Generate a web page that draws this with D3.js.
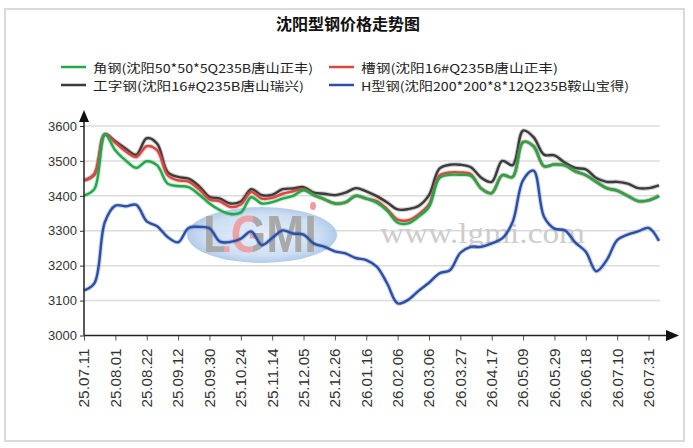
<!DOCTYPE html>
<html>
<head>
<meta charset="utf-8">
<script src="https://cdn.jsdelivr.net/npm/d3@7"></script>
<style>
  body { margin: 0; background: #fff; }
  svg { display: block; }
</style>
</head>
<body>
<div class="chart"></div>
<script>
// Tick labels (one every 15 trading days)
var tickLabels = ["25.07.11", "25.08.01", "25.08.22", "25.09.12", "25.09.30", "25.10.24",
  "25.11.14", "25.12.05", "25.12.26", "26.01.16", "26.02.06", "26.03.06", "26.03.27",
  "26.04.17", "26.05.09", "26.05.29", "26.06.18", "26.07.10", "26.07.31"];
var tickStep = 15;   // trading days between labels
var sampleStep = 5;  // trading days between sampled values

// Series values, every 5 trading days
var angleSteel = [3401, 3420, 3576, 3530, 3501, 3480, 3499, 3487, 3435, 3428, 3425, 3404, 3378, 3359,
  3348, 3352, 3396, 3378, 3382, 3392, 3400, 3416, 3402, 3390, 3378, 3381, 3400, 3392,
  3380, 3357, 3323, 3321, 3340, 3368, 3451, 3460, 3460, 3457, 3421, 3408, 3459, 3454,
  3554, 3542, 3485, 3490, 3487, 3470, 3459, 3440, 3422, 3415, 3400, 3385, 3387, 3400];
var channelSteel = [3444, 3462, 3576, 3552, 3527, 3511, 3542, 3530, 3459, 3444, 3441, 3419, 3390, 3384,
  3368, 3375, 3411, 3392, 3394, 3406, 3413, 3419, 3402, 3390, 3378, 3381, 3400, 3392,
  3385, 3362, 3332, 3330, 3347, 3376, 3458, 3467, 3467, 3462, 3421, 3408, 3459, 3454,
  3554, 3542, 3485, 3490, 3487, 3470, 3459, 3440, 3422, 3415, 3400, 3385, 3387, 3400];
var iBeam = [3444, 3462, 3576, 3556, 3535, 3518, 3565, 3549, 3468, 3454, 3449, 3428, 3397, 3392,
  3378, 3384, 3419, 3402, 3403, 3419, 3421, 3425, 3409, 3406, 3402, 3409, 3422, 3413,
  3399, 3381, 3361, 3362, 3371, 3402, 3478, 3489, 3489, 3482, 3452, 3440, 3500, 3488,
  3587, 3568, 3518, 3516, 3495, 3480, 3476, 3451, 3440, 3440, 3435, 3422, 3422, 3430];
var hBeam = [3129, 3150, 3325, 3372, 3370, 3374, 3327, 3313, 3282, 3267, 3308, 3311, 3307, 3269,
  3268, 3277, 3298, 3259, 3279, 3301, 3292, 3289, 3263, 3254, 3241, 3235, 3222, 3216,
  3197, 3149, 3092, 3102, 3128, 3151, 3178, 3187, 3237, 3254, 3254, 3264, 3278, 3325,
  3445, 3472, 3340, 3306, 3301, 3266, 3240, 3184, 3216, 3273, 3289, 3298, 3308, 3271];

var yTicks = [3000, 3100, 3200, 3300, 3400, 3500, 3600];

var seriesNames = ["角钢(沈阳50*50*5Q235B唐山正丰)", "槽钢(沈阳16#Q235B唐山正丰)",
  "工字钢(沈阳16#Q235B唐山瑞兴)", "H型钢(沈阳200*200*8*12Q235B鞍山宝得)"];
var seriesColors = ["#22a84a", "#d8483f", "#3b3b3b", "#2c4fa6"];
var seriesData = [angleSteel, channelSteel, iBeam, hBeam];

function init() {
  var w = 693;
  var h = 448;
  var left = 84, right = 659, top = 126, bottom = 335.5;

  var svg = d3.select(".chart")
    .append("svg")
    .attr("width", w)
    .attr("height", h);

  // outer frame
  svg.append("rect")
    .attr("x", 5).attr("y", 9)
    .attr("width", 679).attr("height", 432)
    .attr("fill", "#fff")
    .attr("stroke", "#dadada")
    .attr("stroke-width", 2);

  var lastIndex = (angleSteel.length - 1) * sampleStep;
  var xScale = d3.scaleLinear().domain([0, lastIndex]).range([left, right]);
  var yScale = d3.scaleLinear().domain([3000, 3600]).range([bottom, top]);

  // title
  svg.append("text")
    .attr("x", 348).attr("y", 23)
    .attr("text-anchor", "middle")
    .attr("dominant-baseline", "central")
    .style("font-family", "'Noto Sans CJK SC', sans-serif")
    .style("font-size", "16px")
    .style("font-weight", "bold")
    .attr("fill", "#111")
    .text("沈阳型钢价格走势图");

  // legend
  var legendPos = [
    { x: 61, y: 67, w: 220 },
    { x: 329, y: 67, w: 197 },
    { x: 61, y: 85, w: 211 },
    { x: 329, y: 85, w: 268 }
  ];
  seriesNames.forEach(function (name, i) {
    var p = legendPos[i];
    svg.append("line")
      .attr("x1", p.x).attr("x2", p.x + 25)
      .attr("y1", p.y).attr("y2", p.y)
      .attr("stroke", seriesColors[i])
      .attr("stroke-width", 2.5);
    svg.append("text")
      .attr("x", p.x + 32).attr("y", p.y)
      .attr("dominant-baseline", "central")
      .attr("textLength", p.w)
      .attr("lengthAdjust", "spacingAndGlyphs")
      .style("font-family", "'Noto Sans CJK SC', sans-serif")
      .style("font-size", "12px")
      .attr("fill", "#222")
      .text(name);
  });

  // grid lines
  svg.append("g")
    .selectAll("line")
    .data(yTicks.slice(1))
    .enter()
    .append("line")
    .attr("x1", left).attr("x2", right + 1)
    .attr("y1", function (d) { return yScale(d); })
    .attr("y2", function (d) { return yScale(d); })
    .attr("stroke", "#dcdcdc")
    .attr("stroke-width", 1.5);

  // watermark
  var defs = svg.append("defs");
  var grad = defs.append("radialGradient").attr("id", "wmGrad");
  grad.append("stop").attr("offset", "0%").attr("stop-color", "#e3edf8");
  grad.append("stop").attr("offset", "75%").attr("stop-color", "#c9dcf1");
  grad.append("stop").attr("offset", "100%").attr("stop-color", "#aac6e8");
  // letter tint: grey, pink "G", grey
  var tint = defs.append("linearGradient")
    .attr("id", "wmTint")
    .attr("gradientUnits", "userSpaceOnUse")
    .attr("x1", 203).attr("x2", 317).attr("y1", 0).attr("y2", 0);
  [[0, "#a9a9a9"], [0.18, "#a9a9a9"], [0.18, "#eca3a8"], [0.44, "#eca3a8"],
   [0.44, "#a9a9a9"], [1, "#a9a9a9"]].forEach(function (s) {
    tint.append("stop").attr("offset", s[0]).attr("stop-color", s[1]);
  });
  var wm = svg.append("g");
  wm.append("ellipse")
    .attr("cx", 262).attr("cy", 235)
    .attr("rx", 75).attr("ry", 28)
    .attr("fill", "url(#wmGrad)")
    .attr("opacity", 0.9);
  wm.append("text")
    .attr("x", 203).attr("y", 252)
    .attr("textLength", 114)
    .attr("lengthAdjust", "spacingAndGlyphs")
    .style("font-family", "'Liberation Sans', sans-serif")
    .style("font-size", "52px")
    .style("font-weight", "bold")
    .attr("fill", "url(#wmTint)")
    .text("LGMI");
  wm.append("ellipse")
    .attr("cx", 313).attr("cy", 206)
    .attr("rx", 3).attr("ry", 4)
    .attr("fill", "#ee9aa0");
  wm.append("text")
    .attr("x", 380).attr("y", 243)
    .attr("textLength", 205)
    .attr("lengthAdjust", "spacingAndGlyphs")
    .style("font-family", "'Liberation Serif', serif")
    .style("font-size", "30px")
    .attr("fill", "#cdcdcd")
    .text("www.lgmi.com");

  // lines: black, red, green, then blue on top
  var line = d3.line()
    .x(function (d, i) { return xScale(i * sampleStep); })
    .y(function (d) { return yScale(d); })
    .curve(d3.curveCatmullRom.alpha(0.5));
  [2, 1, 0, 3].forEach(function (i) {
    svg.append("path")
      .datum(seriesData[i])
      .attr("fill", "none")
      .attr("stroke", seriesColors[i])
      .attr("stroke-opacity", 0.25)
      .attr("stroke-width", 4.5)
      .attr("d", line);
    svg.append("path")
      .datum(seriesData[i])
      .attr("fill", "none")
      .attr("stroke", seriesColors[i])
      .attr("stroke-width", 2.4)
      .attr("d", line);
  });

  // y axis
  var yAxis = d3.axisLeft(yScale)
    .tickValues(yTicks)
    .tickSize(4)
    .tickPadding(3)
    .tickFormat(d3.format("d"));
  var gy = svg.append("g")
    .attr("transform", "translate(" + left + ",0)")
    .call(yAxis);
  gy.select(".domain").remove();
  gy.selectAll("text")
    .style("font-family", "'Liberation Sans', Arial, sans-serif")
    .style("font-size", "13px")
    .attr("fill", "#333");
  gy.selectAll("line").attr("stroke", "#333");

  // x axis
  var xTickValues = tickLabels.map(function (d, i) { return i * tickStep; });
  var xAxis = d3.axisBottom(xScale)
    .tickValues(xTickValues)
    .tickSize(5)
    .tickFormat(function (d) { return tickLabels[d / tickStep]; });
  var gx = svg.append("g")
    .attr("transform", "translate(0," + bottom + ")")
    .call(xAxis);
  gx.select(".domain").remove();
  gx.selectAll("line").attr("stroke", "#555");
  gx.selectAll("text")
    .attr("transform", "rotate(-90)")
    .attr("x", -13)
    .attr("y", 0)
    .attr("dy", "0.35em")
    .attr("text-anchor", "end")
    .attr("textLength", 59)
    .attr("lengthAdjust", "spacingAndGlyphs")
    .style("font-family", "'Liberation Sans', Arial, sans-serif")
    .style("font-size", "14px")
    .attr("fill", "#333");

  // axis lines with arrows
  svg.append("line")
    .attr("x1", left).attr("x2", 670)
    .attr("y1", bottom).attr("y2", bottom)
    .attr("stroke", "#222").attr("stroke-width", 1.5);
  svg.append("path")
    .attr("d", "M679," + bottom + "L666," + (bottom - 5.5) + "L666," + (bottom + 5.5) + "Z")
    .attr("fill", "#111");
  svg.append("line")
    .attr("x1", left).attr("x2", left)
    .attr("y1", bottom).attr("y2", 120)
    .attr("stroke", "#222").attr("stroke-width", 1.5);
  svg.append("path")
    .attr("d", "M" + left + ",110L" + (left - 5) + ",122L" + (left + 5) + ",122Z")
    .attr("fill", "#111");
}
window.onload = init;
</script>
</body>
</html>
